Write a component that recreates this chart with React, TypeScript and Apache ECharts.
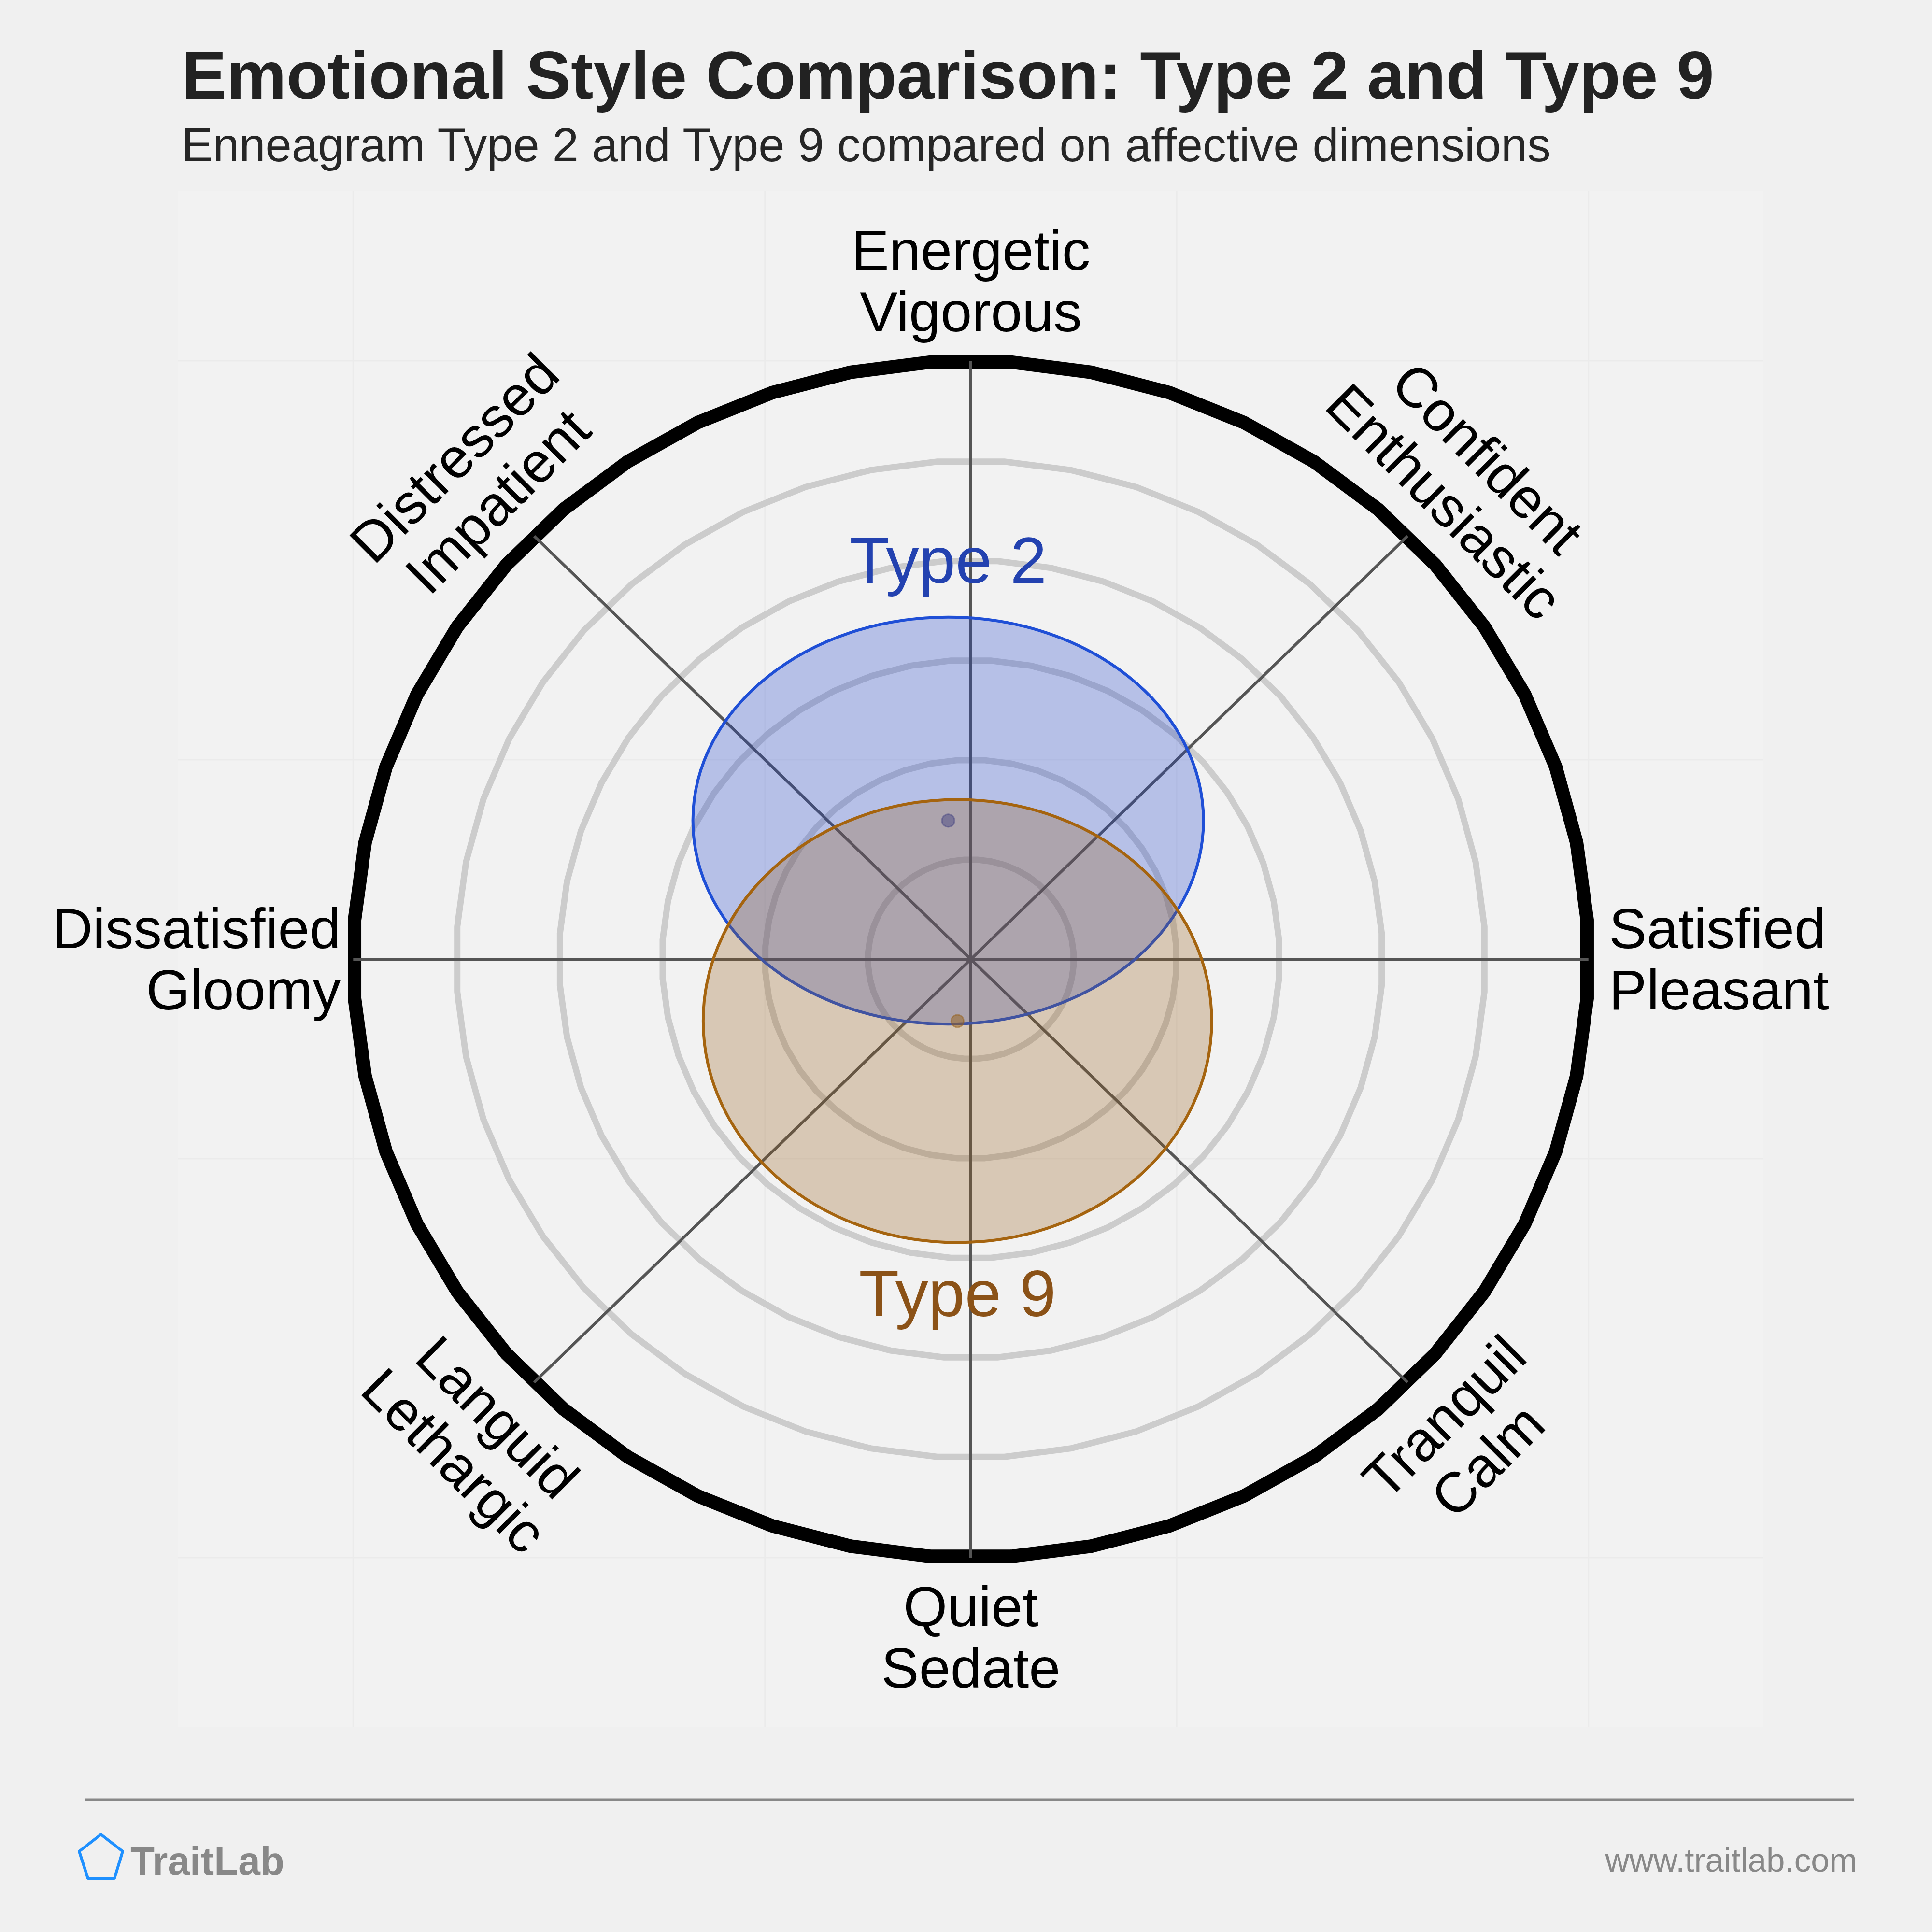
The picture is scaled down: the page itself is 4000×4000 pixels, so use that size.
import React, { useEffect, useRef } from "react";
import * as echarts from "echarts";

// ---------- data ----------
const typeNames = ["Type 2", "Type 9"];
const centerX = [-0.22, -0.13];
const centerY = [1.39, -0.62];
const spreadX = [2.48, 2.47];
const spreadY = [2.04, 2.22];

const ringLevels = [1, 2, 3, 4, 5];
const outerLevel = 6;
const gridTicks = [-6, -2, 2, 6];
const axisAngles = [0, 45, 90, 135, 180, 225, 270, 315];
const axisLabels = [
  "Satisfied\nPleasant",
  "Confident\nEnthusiastic",
  "Energetic\nVigorous",
  "Distressed\nImpatient",
  "Dissatisfied\nGloomy",
  "Languid\nLethargic",
  "Quiet\nSedate",
  "Tranquil\nCalm",
];

const AXIS_MIN = -7.7;
const AXIS_MAX = 7.7;
const FONT = '"Liberation Sans", Arial, Helvetica, sans-serif';

const typeStyles = [
  { line: "#1f4fd6", fill: "rgba(28,63,206,0.28)", text: "#2342b0", dot: "rgba(40,60,170,0.5)", side: 1, gap: 118 },
  { line: "#a5640f", fill: "rgba(150,95,25,0.28)", text: "#8b5217", dot: "rgba(150,95,25,0.5)", side: -1, gap: 106 },
];

export default function App() {
  const ref = useRef<HTMLDivElement>(null);

  useEffect(() => {
    if (!ref.current) return;
    const chart = echarts.init(ref.current, null, { renderer: "svg", width: 4000, height: 4000 });

    const gridLineSeries = {
      type: "custom",
      silent: true,
      z: 1,
      data: gridTicks.map((t) => [t, t]),
      renderItem: (params: any, api: any) => {
        const t = api.value(0);
        const v1 = api.coord([t, AXIS_MIN]);
        const v2 = api.coord([t, AXIS_MAX]);
        const h1 = api.coord([AXIS_MIN, t]);
        const h2 = api.coord([AXIS_MAX, t]);
        const st = { stroke: "#ebebeb", lineWidth: 3 };
        return {
          type: "group",
          children: [
            { type: "line", shape: { x1: v1[0], y1: v1[1], x2: v2[0], y2: v2[1] }, style: st },
            { type: "line", shape: { x1: h1[0], y1: h1[1], x2: h2[0], y2: h2[1] }, style: st },
          ],
        };
      },
    };

    const ringSeries = {
      type: "custom",
      silent: true,
      z: 2,
      data: [...ringLevels, outerLevel].map((r) => [r, 0]),
      renderItem: (params: any, api: any) => {
        const r = api.value(0);
        const pts: number[][] = [];
        const n = 48;
        for (let k = 0; k < n; k++) {
          const a = ((k + 0.5) * 2 * Math.PI) / n;
          pts.push(api.coord([r * Math.cos(a), r * Math.sin(a)]));
        }
        const outer = r === outerLevel;
        return {
          type: "polygon",
          shape: { points: pts },
          style: { fill: "none", stroke: outer ? "#000000" : "#cccccc", lineWidth: outer ? 28 : 13 },
        };
      },
    };

    const spokeSeries = {
      type: "custom",
      silent: true,
      z: 3,
      data: axisAngles.map((a) => [a, 0]),
      renderItem: (params: any, api: any) => {
        const a = (api.value(0) * Math.PI) / 180;
        const c = api.coord([0, 0]);
        const e = api.coord([outerLevel * Math.cos(a), outerLevel * Math.sin(a)]);
        return {
          type: "line",
          shape: { x1: c[0], y1: c[1], x2: e[0], y2: e[1] },
          style: { stroke: "#555555", lineWidth: 6 },
        };
      },
    };

    const ellipseSeries = {
      type: "custom",
      silent: true,
      z: 4,
      data: typeNames.map((n, i) => [centerX[i], centerY[i], spreadX[i], spreadY[i]]),
      renderItem: (params: any, api: any) => {
        const i = params.dataIndex;
        const s = typeStyles[i];
        const c = api.coord([api.value(0), api.value(1)]);
        const sz = api.size([api.value(2), api.value(3)]);
        const ly = s.side > 0 ? c[1] - sz[1] - s.gap : c[1] + sz[1] + s.gap;
        return {
          type: "group",
          children: [
            {
              type: "ellipse",
              shape: { cx: c[0], cy: c[1], rx: sz[0], ry: sz[1] },
              style: { fill: s.fill, stroke: s.line, lineWidth: 6 },
            },
            {
              type: "circle",
              shape: { cx: c[0], cy: c[1], r: 13 },
              style: { fill: s.dot, stroke: s.dot, lineWidth: 3 },
            },
            {
              type: "text",
              x: c[0],
              y: ly,
              style: {
                text: typeNames[i],
                fill: s.text,
                fontSize: 136,
                fontFamily: FONT,
                align: "center",
                verticalAlign: "middle",
                textAlign: "center",
                textVerticalAlign: "middle",
              },
            },
          ],
        };
      },
    };

    const labelSeries = {
      type: "custom",
      silent: true,
      z: 5,
      data: axisAngles.map((a) => [a, 0]),
      renderItem: (params: any, api: any) => {
        const i = params.dataIndex;
        const deg = api.value(0);
        const a = (deg * Math.PI) / 180;
        const horiz = deg % 180 === 0;
        const r = horiz ? (deg === 0 ? 6.2 : 6.12) : 6.8;
        const p = api.coord([r * Math.cos(a), r * Math.sin(a)]);
        let rotation = 0;
        if (deg % 180 === 45) rotation = -Math.PI / 4;
        if (deg % 180 === 135) rotation = Math.PI / 4;
        const align = horiz ? (deg === 0 ? "left" : "right") : "center";
        return {
          type: "text",
          x: p[0],
          y: p[1],
          rotation,
          style: {
            text: axisLabels[i],
            fill: "#000000",
            fontSize: 117,
            fontFamily: FONT,
            lineHeight: 127,
            align,
            verticalAlign: "middle",
            textAlign: align,
            textVerticalAlign: "middle",
          },
        };
      },
    };

    const option: any = {
      animation: false,
      backgroundColor: "#f0f0f0",
      tooltip: { show: false },
      grid: {
        left: 369,
        top: 396,
        width: 3282,
        height: 3180,
        show: true,
        backgroundColor: "#f2f2f2",
        borderWidth: 0,
      },
      xAxis: { type: "value", min: AXIS_MIN, max: AXIS_MAX, show: false },
      yAxis: { type: "value", min: AXIS_MIN, max: AXIS_MAX, show: false },
      graphic: [
        {
          type: "text",
          x: 376,
          y: 156,
          style: {
            text: "Emotional Style Comparison: Type 2 and Type 9",
            fill: "#222222",
            font: `bold 139.5px ${FONT}`,
            textAlign: "left",
            textVerticalAlign: "middle",
            align: "left",
            verticalAlign: "middle",
          },
        },
        {
          type: "text",
          x: 376,
          y: 300,
          style: {
            text: "Enneagram Type 2 and Type 9 compared on affective dimensions",
            fill: "#262626",
            font: `97.5px ${FONT}`,
            textAlign: "left",
            textVerticalAlign: "middle",
            align: "left",
            verticalAlign: "middle",
          },
        },
        {
          type: "line",
          shape: { x1: 175, y1: 3726, x2: 3839, y2: 3726 },
          style: { stroke: "#888888", lineWidth: 5 },
        },
        {
          type: "polygon",
          shape: { points: [[209, 3798], [254, 3833], [237, 3889], [182, 3889], [164, 3833]] },
          style: { fill: "none", stroke: "#1e90ff", lineWidth: 6, lineJoin: "round" },
        },
        {
          type: "text",
          x: 270,
          y: 3852,
          style: {
            text: "TraitLab",
            fill: "#888888",
            font: `bold 82px ${FONT}`,
            textAlign: "left",
            textVerticalAlign: "middle",
            align: "left",
            verticalAlign: "middle",
          },
        },
        {
          type: "text",
          x: 3845,
          y: 3851,
          style: {
            text: "www.traitlab.com",
            fill: "#888888",
            font: `69px ${FONT}`,
            textAlign: "right",
            textVerticalAlign: "middle",
            align: "right",
            verticalAlign: "middle",
          },
        },
      ],
      series: [gridLineSeries, ringSeries, spokeSeries, ellipseSeries, labelSeries],
    };

    chart.setOption(option);
    return () => chart.dispose();
  }, []);

  return (
    <div
      ref={ref}
      style={{ position: "absolute", left: 0, top: 0, width: 4000, height: 4000 }}
    />
  );
}
